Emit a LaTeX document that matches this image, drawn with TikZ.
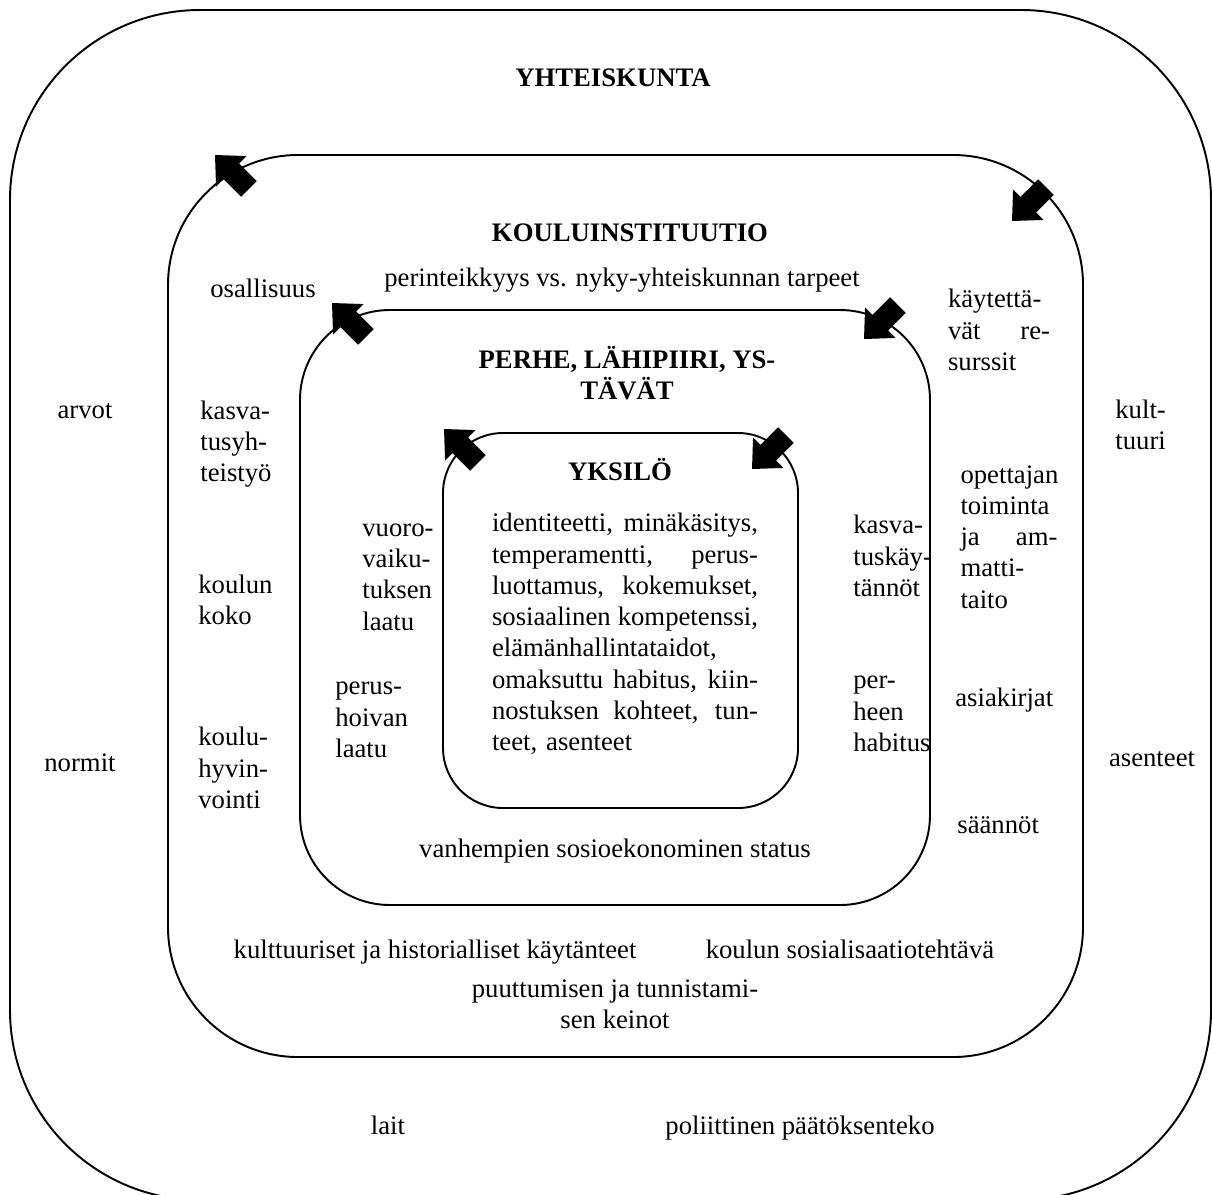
\documentclass[tikz,border=0pt]{standalone}
\usepackage{fontspec}
\setmainfont{Liberation Serif}
\usetikzlibrary{calc}
\tikzset{>=latex}
\tikzset{
  ring/.style={draw, line width=1.1pt},
  lbl/.style={inner sep=0pt, align=left, font=\fontsize{15.2}{17.8}\selectfont},
  title/.style={lbl, align=center, font=\fontsize{15.2}{17.8}\selectfont\bfseries},
  blockarrow/.pic={
    \fill (0,0) -- (-0.46cm,0.43cm) -- (-0.46cm,0.22cm) -- (-0.96cm,0.22cm)
      -- (-0.96cm,-0.22cm) -- (-0.46cm,-0.22cm) -- (-0.46cm,-0.43cm) -- cycle;
  }
}
% one justified line of a given width
\newcommand\jline[2]{{\spaceskip=0pt\xspaceskip=0pt\makebox[#1][s]{#2}}}

\begin{document}
\begin{tikzpicture}[x=0.02cm, y=-0.02cm]
  \useasboundingbox (0,0) rectangle (1212,1194);
  \clip (0,0) rectangle (1212,1194);

  % the four rings
  \draw[ring, rounded corners=3.8cm] (10,10) rectangle (1211,1200);
  \draw[ring, rounded corners=2.6cm] (168,155) rectangle (1083,1057);
  \draw[ring, rounded corners=1.8cm] (300,310) rectangle (930,905);
  \draw[ring, rounded corners=1.2cm] (443,433) rectangle (798,808);

  % arrows between the rings
  \pic[rotate=135] at (215,155) {blockarrow};
  \pic[rotate=225] at (1012,221) {blockarrow};
  \pic[rotate=135] at (332,303) {blockarrow};
  \pic[rotate=225] at (864,339) {blockarrow};
  \pic[rotate=135] at (444,429) {blockarrow};
  \pic[rotate=225] at (752,469) {blockarrow};

  % society
  \node[title, anchor=base] (yhteiskunta) at (613,86) {YHTEISKUNTA};
  \node[lbl, anchor=base] (arvot) at (85,418) {arvot};
  \node[lbl, anchor=base] (normit) at (80,771) {normit};
  \node[lbl, anchor=west] (kulttuuri) at (1115,425) {kult-\\tuuri};
  \node[lbl, anchor=base] (asenteet) at (1152,766) {asenteet};
  \node[lbl, anchor=base] (lait) at (388,1134) {lait};
  \node[lbl, anchor=base] (paatoksenteko) at (800,1134) {poliittinen päätöksenteko};

  % school
  \node[title, anchor=base] (koulu) at (630,241) {KOULUINSTITUUTIO};
  \node[lbl, anchor=base] (perinne) at (622,286) {perinteikkyys vs. nyky-yhteiskunnan tarpeet};
  \node[lbl, anchor=base west] (osallisuus) at (210,297) {osallisuus};
  \node[lbl, text width=2.04cm] (resurssit) at (999,330) {käytettä-\\ \jline{2.04cm}{vät re-}\\ surssit};
  \node[lbl, anchor=west] (yhteistyo) at (200,444) {kasva-\\tusyh-\\teistyö};
  \node[lbl, anchor=west] (koko) at (198,600) {koulun\\koko};
  \node[lbl, anchor=west] (hyvinvointi) at (198,768) {koulu-\\hyvin-\\vointi};
  \node[lbl, text width=1.94cm] (opettaja) at (1009,537) {opettajan\\ toiminta\\ \jline{1.94cm}{ja am-}\\ matti-\\ taito};
  \node[lbl, anchor=base west] (asiakirjat) at (955,706) {asiakirjat};
  \node[lbl, anchor=base west] (saannot) at (957,833) {säännöt};
  \node[lbl, anchor=base] (kaytanteet) at (435,958) {kulttuuriset ja historialliset käytänteet};
  \node[lbl, anchor=base] (sosialisaatio) at (850,958) {koulun sosialisaatiotehtävä};
  \node[lbl, align=center] (keinot) at (615,1004) {puuttumisen ja tunnistami-\\sen keinot};

  % family
  \node[title] (perhe) at (627,373) {PERHE, LÄHIPIIRI, YS-\\TÄVÄT};
  \node[lbl, anchor=west] (vuoro) at (362,577) {vuoro-\\vaiku-\\tuksen\\laatu};
  \node[lbl, anchor=west] (hoiva) at (335,720) {perus-\\hoivan\\laatu};
  \node[lbl, anchor=west] (kaytannot) at (853,556) {kasva-\\tuskäy-\\tännöt};
  \node[lbl, anchor=west] (habitus) at (853,714) {per-\\heen\\habitus};
  \node[lbl, anchor=base] (status) at (615,857) {vanhempien sosioekonominen status};

  % individual
  \node[title, anchor=base] (yksilo) at (620,480) {YKSILÖ};
  \node[lbl, text width=5.32cm] (yksilotxt) at (625,634) {\jline{5.32cm}{identiteetti, minäkäsitys,}\\
    \jline{5.32cm}{temperamentti, perus-}\\ \jline{5.32cm}{luottamus, kokemukset,}\\
    \jline{5.32cm}{sosiaalinen kompetenssi,}\\ elämänhallintataidot,\\
    \jline{5.32cm}{omaksuttu habitus, kiin-}\\ \jline{5.32cm}{nostuksen kohteet, tun-}\\ teet, asenteet};
\end{tikzpicture}
\end{document}
